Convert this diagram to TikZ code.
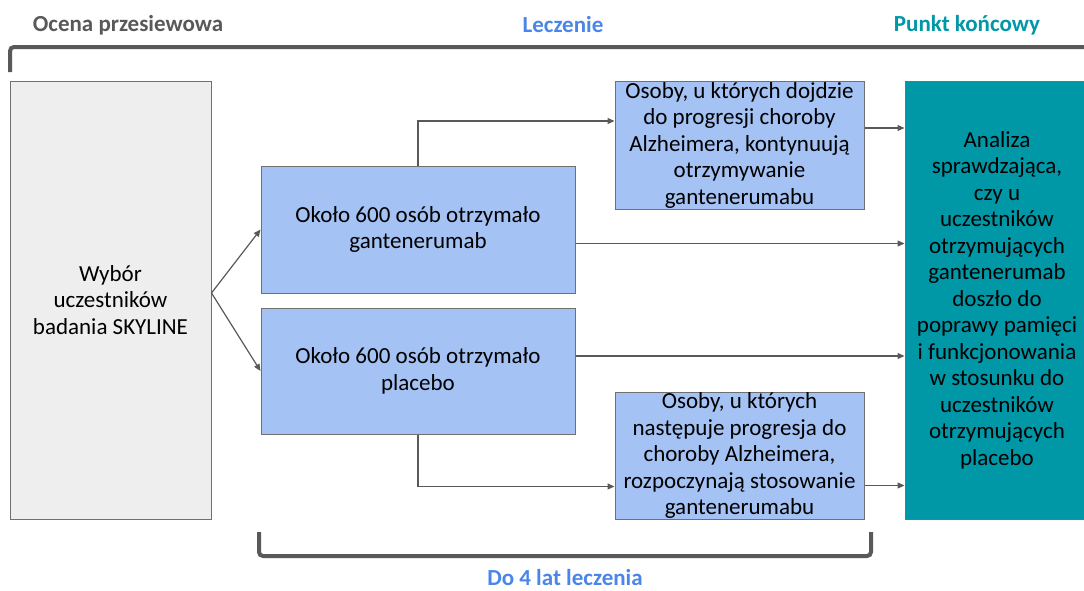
\documentclass[tikz,border=0pt]{standalone}
\usepackage{fontspec}
\setmainfont{Carlito}
\usetikzlibrary{arrows.meta}
\definecolor{headgray}{HTML}{595959}
\definecolor{headblue}{HTML}{4A86E8}
\definecolor{headteal}{HTML}{0097A7}
\definecolor{boxgray}{HTML}{EEEEEE}
\definecolor{boxblue}{HTML}{A4C2F4}
\definecolor{boxteal}{HTML}{0097A7}
\definecolor{edgegray}{HTML}{707070}
\tikzset{
  box/.style={draw=edgegray, line width=1, align=center, inner sep=0, font=\fontsize{23}{26.5}\selectfont},
  flow/.style={draw=headgray, line width=1.2, -{Triangle[length=7,width=6]}},
  brace/.style={draw=headgray, line width=4, rounded corners=4},
  head/.style={inner sep=0, font=\fontsize{23}{25}\selectfont\bfseries},
}

\begin{document}
\begin{tikzpicture}[x=1pt,y=-1pt]
\useasboundingbox (0,0) rectangle (1084,590);
\clip (0,0) rectangle (1084,590);
% headings
\node[head, text=headgray] (hScreen) at (128,25) {Ocena przesiewowa};
\node[head, text=headblue] (hTreat) at (563,25) {Leczenie};
\node[head, text=headteal] (hEnd) at (967,25) {Punkt końcowy};
\node[head, text=headblue] (hTime) at (565,578) {Do 4 lat leczenia};
\draw[brace] (10,72) -- (10,47) -- (1095,47);
\draw[brace] (259,532) -- (259,556) -- (871,556) -- (871,532);
% boxes
\node[box, fill=boxgray, minimum width=201, minimum height=438] (screening) at (110.5,300) {Wybór\\uczestników\\badania SKYLINE};
\node[box, fill=boxblue, minimum width=314, minimum height=127] (treatGant) at (418,229.5) {Około 600 osób otrzymało\\gantenerumab};
\node[box, fill=boxblue, minimum width=314, minimum height=126] (treatPlac) at (418,371) {Około 600 osób otrzymało\\placebo};
\node[box, fill=boxblue, minimum width=249, minimum height=128] (progGant) at (739.5,145) {Osoby, u których dojdzie\\do progresji choroby\\Alzheimera, kontynuują\\otrzymywanie\\gantenerumabu};
\node[box, fill=boxblue, minimum width=249, minimum height=127] (progPlac) at (739.5,455.5) {Osoby, u których\\następuje progresja do\\choroby Alzheimera,\\rozpoczynają stosowanie\\gantenerumabu};
\node[box, fill=boxteal, minimum width=184, minimum height=438] (endpoint) at (997,300) {Analiza\\sprawdzająca,\\czy u\\uczestników\\otrzymujących\\gantenerumab\\doszło do\\poprawy pamięci\\i funkcjonowania\\w stosunku do\\uczestników\\otrzymujących\\placebo};
% connectors
\draw[flow] ([yshift=7]screening.east) -- (treatGant.west);
\draw[flow] ([yshift=7]screening.east) -- (treatPlac.west);
\draw[flow] (treatGant.north) |- ([yshift=24]progGant.west);
\draw[flow] (treatPlac.south) |- ([yshift=-31]progPlac.west);
\draw[flow] ([yshift=17]progGant.east) -- ([yshift=17]progGant.east -| endpoint.west);
\draw[flow] ([yshift=-14]treatGant.east) -- ([yshift=-14]treatGant.east -| endpoint.west);
\draw[flow] ([yshift=15]treatPlac.east) -- ([yshift=15]treatPlac.east -| endpoint.west);
\draw[flow] ([yshift=-30]progPlac.east) -- ([yshift=-30]progPlac.east -| endpoint.west);
\end{tikzpicture}
\end{document}
